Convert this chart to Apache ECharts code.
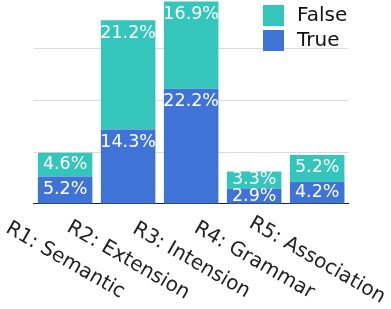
<!DOCTYPE html>
<html>
<head>
<meta charset="utf-8">
<script src="https://cdn.jsdelivr.net/npm/echarts@6/dist/echarts.min.js"></script>
<style>
html,body{margin:0;padding:0;background:#fff;}
#chart{width:391px;height:309px;}
</style>
</head>
<body>
<div id="chart"></div>
<script>
var categories = ['R1: Semantic', 'R2: Extension', 'R3: Intension', 'R4: Grammar', 'R5: Association'];
var trueValues = [5.2, 14.3, 22.2, 2.9, 4.2];
var falseValues = [4.6, 21.2, 16.9, 3.3, 5.2];
var seriesNames = ['False', 'True'];

var FONT = 'DejaVu Sans';
function items(vals) {
  return vals.map(function (v) {
    return {
      value: v,
      label: { position: v < 5 ? 'inside' : 'insideTop' }
    };
  });
}
var labelStyle = {
  show: true,
  color: '#fff',
  fontFamily: FONT,
  fontSize: 17.5,
  distance: 4,
  formatter: function (p) { return p.value.toFixed(1) + '%'; }
};
var chart = echarts.init(document.getElementById('chart'), null, { renderer: 'canvas' });
chart.setOption({
  animation: false,
  backgroundColor: '#fff',
  textStyle: { fontFamily: FONT },
  legend: {
    data: seriesNames,
    orient: 'vertical',
    left: 258,
    top: 0,
    itemWidth: 21,
    itemHeight: 21,
    itemGap: 4,
    icon: 'rect',
    textStyle: { fontFamily: FONT, fontSize: 20, color: '#111', padding: [0, 0, 0, 8] }
  },
  grid: { left: 33, right: 40, top: 0, bottom: 105, containLabel: false },
  xAxis: {
    type: 'category',
    data: categories,
    axisLine: { show: true, lineStyle: { color: '#222', width: 1 } },
    axisTick: { show: false },
    axisLabel: {
      interval: 0,
      rotate: -30,
      align: 'center',
      verticalAlign: 'middle',
      margin: 57,
      fontFamily: FONT,
      fontSize: 20,
      color: '#222'
    }
  },
  yAxis: {
    type: 'value',
    min: 0,
    max: 39.4,
    interval: 10,
    axisLabel: { show: false },
    axisLine: { show: false },
    axisTick: { show: false },
    splitLine: { show: true, showMinLine: false, showMaxLine: false, lineStyle: { color: '#dcdcdc', width: 1 } }
  },
  series: [
    {
      name: 'True',
      type: 'bar',
      stack: 'total',
      barCategoryGap: '13.5%',
      z: 3,
      itemStyle: { color: '#3f73d5' },
      label: labelStyle,
      data: items(trueValues)
    },
    {
      name: 'False',
      type: 'bar',
      stack: 'total',
      barCategoryGap: '13.5%',
      z: 2,
      itemStyle: { color: '#35c6bb' },
      label: labelStyle,
      data: items(falseValues)
    }
  ]
});
</script>
</body>
</html>
